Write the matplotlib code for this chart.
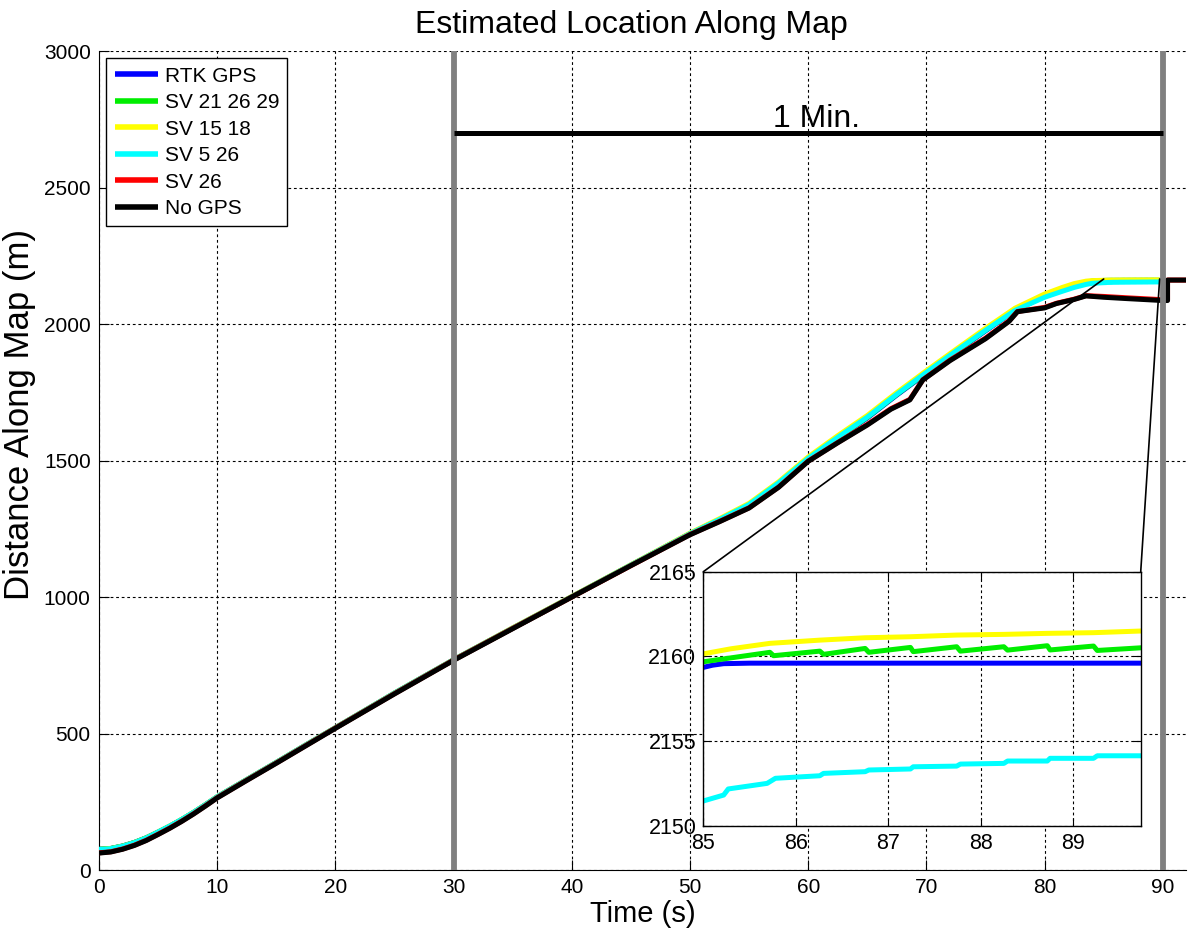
import matplotlib
matplotlib.use("Agg")
import matplotlib.pyplot as plt
from matplotlib.patches import ConnectionPatch

plt.rcParams['font.family'] = ['Liberation Sans', 'DejaVu Sans']

# ---------------- data ----------------
labels = ["RTK GPS", "SV 21 26 29", "SV 15 18", "SV 5 26", "SV 26", "No GPS"]
colors = ["#0000ff", "#00ee00", "#ffff00", "#00ffff", "#ff0000", "#000000"]

# main-plot samples (0 .. 84 s) for the GPS-aided solutions
t_early = [0, 1, 2, 3, 4, 5, 6, 7, 8, 9, 10, 12.5, 15, 17.5, 20, 25, 30, 35, 40, 45, 50, 52.5, 55, 57.5,
           60, 62.5, 65, 67.5, 70, 72.5, 75, 77.5, 80, 81.5, 82.5, 83.5, 84]
rtk_early = [76, 79, 88, 101, 118, 139, 161, 185, 211, 239, 268, 331, 394, 458, 521, 648, 770, 886, 1001, 1117,
             1232, 1283, 1338, 1415, 1505, 1582, 1656, 1740, 1820, 1898, 1975, 2050, 2102, 2126, 2140, 2151, 2156]
sv212629_early = [76, 79, 88, 101, 118, 139, 161, 185, 211, 239, 268, 331, 394, 458, 521, 648, 770, 886, 1001, 1117,
                  1232, 1284, 1339, 1417, 1507, 1584, 1658, 1742, 1822, 1900, 1977, 2052, 2104, 2128, 2142, 2153, 2157]
sv1518_early = [75, 78, 87, 100, 117, 139, 161, 185, 211, 239, 268, 331, 394, 458, 521, 648, 770, 887, 1002, 1118,
                1234, 1287, 1343, 1422, 1513, 1591, 1665, 1749, 1829, 1907, 1984, 2058, 2110, 2134, 2148, 2157, 2159]
sv526_early = [75, 78, 87, 100, 117, 139, 161, 185, 211, 239, 268, 331, 394, 458, 521, 648, 770, 886, 1001, 1117,
               1232, 1284, 1339, 1418, 1508, 1585, 1659, 1743, 1823, 1901, 1977, 2050, 2098, 2120, 2134, 2145, 2149]

# zoom window samples (85 .. 89.75 s)
t_rtk_zoom = [85.0, 85.1, 85.22, 85.5, 86.0, 87.0, 88.0, 89.0, 89.74]
rtk_zoom = [2159.35, 2159.48, 2159.57, 2159.6, 2159.6, 2159.6, 2159.6, 2159.6, 2159.6]

t_sv212629_zoom = [85.0, 85.72, 85.76, 86.26, 86.30, 86.75, 86.79, 87.24, 87.27, 87.74, 87.78,
                   88.25, 88.29, 88.72, 88.75, 89.22, 89.26, 89.74]
sv212629_zoom = [2159.68, 2160.24, 2160.04, 2160.31, 2160.12, 2160.47, 2160.24, 2160.53, 2160.28,
                 2160.57, 2160.31, 2160.57, 2160.37, 2160.63, 2160.38, 2160.61, 2160.35, 2160.51]

t_sv1518_zoom = [85.0, 85.3, 85.72, 86.26, 86.75, 87.24, 87.74, 88.25, 88.72, 89.22, 89.74]
sv1518_zoom = [2160.15, 2160.45, 2160.77, 2160.96, 2161.1, 2161.16, 2161.26, 2161.3, 2161.36, 2161.4, 2161.5]

t_sv526_zoom = [85.0, 85.22, 85.27, 85.69, 85.78, 86.26, 86.30, 86.75, 86.79, 87.24, 87.27, 87.74, 87.78,
                88.25, 88.29, 88.72, 88.75, 89.22, 89.26, 89.74]
sv526_zoom = [2151.46, 2151.81, 2152.17, 2152.5, 2152.8, 2152.95, 2153.09, 2153.19, 2153.29, 2153.35, 2153.48,
              2153.52, 2153.64, 2153.68, 2153.82, 2153.82, 2153.98, 2153.98, 2154.13, 2154.13]

# solutions without enough satellites (main plot only)
t_nogps = [0, 1, 2, 3, 4, 5, 6, 7, 8, 9, 10, 12.5, 15, 17.5, 20, 25, 30, 35, 40, 45, 50, 52.5, 55, 57.5,
           60, 62.5, 65, 67, 68.6, 69.7, 72, 75, 77, 77.7, 78.5, 80, 81, 82.5, 83.5, 85, 87, 90, 90.4, 90.4, 92.5]
sv26 = [63, 67, 77, 91, 109, 131, 154, 179, 206, 235, 265, 329, 392, 456, 520, 646, 769, 885, 1000, 1115,
        1229, 1277, 1327, 1403, 1498, 1566, 1632, 1690, 1724, 1796, 1868, 1948, 2012, 2046, 2051, 2061, 2076,
        2091, 2104, 2101, 2096, 2089, 2089, 2161, 2161]
nogps = [62, 66, 76, 90, 108, 130, 153, 178, 205, 234, 264, 328, 391, 455, 519, 645, 768, 884, 1000, 1115,
         1228, 1276, 1326, 1402, 1497, 1565, 1630, 1688, 1722, 1795, 1866, 1946, 2010, 2045, 2050, 2059, 2075,
         2090, 2103, 2098, 2093, 2086, 2086, 2161, 2161]

x_ticks = [0, 10, 20, 30, 40, 50, 60, 70, 80, 90]
y_ticks = [0, 500, 1000, 1500, 2000, 2500, 3000]
zoom_x_ticks = [85, 86, 87, 88, 89]
zoom_y_ticks = [2150, 2155, 2160, 2165]
minute_start, minute_end, minute_level = 30, 90, 2700
minute_label = "1 Min."

# ---------------- figure ----------------
fig = plt.figure(figsize=(11.88, 9.31), dpi=100)
ax = fig.add_axes([0.0833, 0.0655, 0.9154, 0.8797])

gps_series = [
    (t_early + t_rtk_zoom, rtk_early + rtk_zoom),
    (t_early + t_sv212629_zoom, sv212629_early + sv212629_zoom),
    (t_early + t_sv1518_zoom, sv1518_early + sv1518_zoom),
    (t_early + t_sv526_zoom, sv526_early + sv526_zoom),
    (t_nogps, sv26),
    (t_nogps, nogps),
]

lw = 3.6
for (tt, yy), c, lab in zip(gps_series, colors, labels):
    ax.plot(tt, yy, color=c, lw=lw, label=lab, solid_capstyle='butt', solid_joinstyle='round', zorder=3)

ax.axvline(minute_start, color="#808080", lw=4.2, zorder=4)
ax.axvline(minute_end, color="#808080", lw=4.2, zorder=4)
ax.plot([minute_start, minute_end], [minute_level, minute_level], color="black", lw=3.6, zorder=4,
        solid_capstyle='butt')
ax.annotate(minute_label, xy=((minute_start + minute_end) / 2, minute_level), xytext=(6, -0.5),
            textcoords="offset points", ha="center", va="bottom", fontsize=23)

ax.set_xlim(0, 92)
ax.set_ylim(0, 3000)
ax.set_xticks(x_ticks)
ax.set_yticks(y_ticks)
ax.grid(True, color="black", linestyle=(0, (2.5, 2.5)), linewidth=0.8)
ax.set_axisbelow(True)
for s in ["top", "right"]:
    ax.spines[s].set_visible(False)
ax.tick_params(direction="in", length=7, labelsize=15, pad=6)
ax.set_xlabel("Time (s)", fontsize=21, labelpad=2)
ax.set_ylabel("Distance Along Map (m)", fontsize=25)
ax.yaxis.set_label_coords(-0.058, 0.556)
ax.set_title("Estimated Location Along Map", fontsize=23, pad=13, x=0.49)

leg = ax.legend(loc="upper left", fontsize=15, handlelength=2.1, labelspacing=0.36, borderpad=0.4,
                handletextpad=0.3, fancybox=False, framealpha=1, edgecolor="black",
                bbox_to_anchor=(0.0, 1.0), borderaxespad=0.35)
leg.get_frame().set_linewidth(1.0)
for h in leg.get_lines():
    h.set_linewidth(4)

# ---------------- inset ----------------
axi = fig.add_axes([0.592, 0.1131, 0.3682, 0.2728])
zoom_series = [
    (t_rtk_zoom, rtk_zoom),
    (t_sv212629_zoom, sv212629_zoom),
    (t_sv1518_zoom, sv1518_zoom),
    (t_sv526_zoom, sv526_zoom),
]
for (tt, yy), c in zip(zoom_series, colors[:4]):
    axi.plot(tt, yy, color=c, lw=lw, solid_capstyle='butt')
axi.set_xlim(85, 89.73)
axi.set_ylim(2150, 2165)
axi.set_xticks(zoom_x_ticks)
axi.set_yticks(zoom_y_ticks)
axi.grid(True, color="black", linestyle=(0, (2.5, 2.5)), linewidth=0.8)
axi.tick_params(direction="in", length=6, labelsize=15.5, pad=5, top=True, right=True)
axi.set_facecolor("white")
for s in axi.spines.values():
    s.set_linewidth(1.0)

# connector lines from inset corners to the zoom window
x0, x1 = axi.get_xlim()
y0, y1 = axi.get_ylim()
for xa, xd in [(0, x0), (1, x1)]:
    con = ConnectionPatch(xyA=(xa, 1), coordsA=axi.transAxes, xyB=(xd, y1), coordsB=ax.transData,
                          color="black", lw=1.2, zorder=10)
    fig.add_artist(con)

fig.savefig("out.png", dpi=100)
